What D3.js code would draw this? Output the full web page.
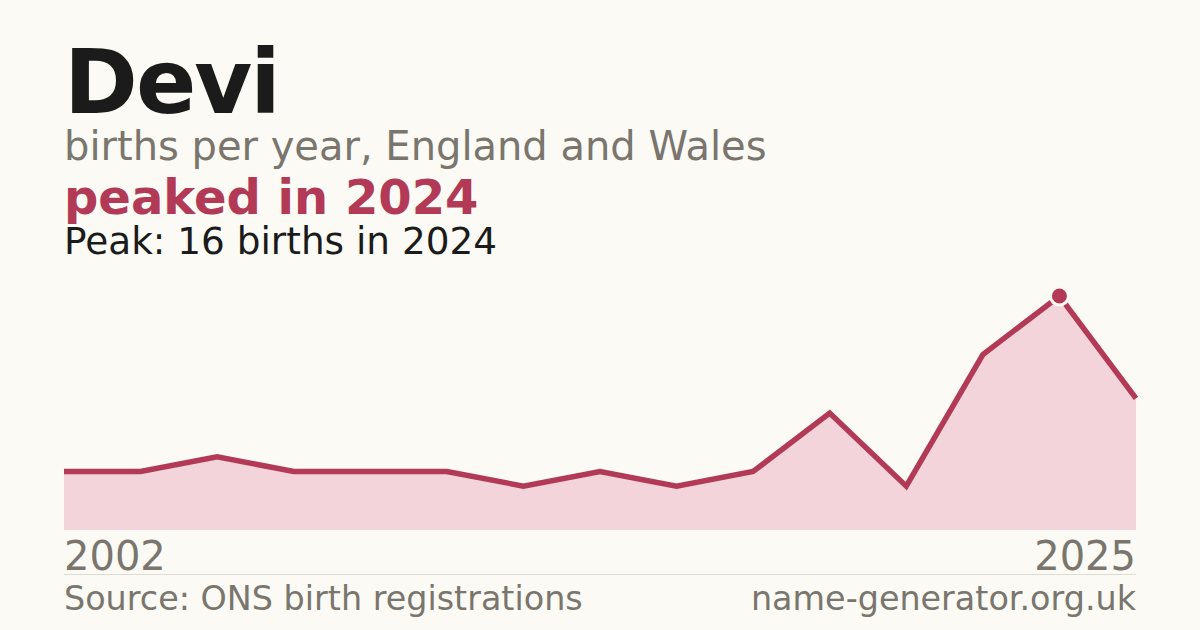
<!DOCTYPE html>
<html>
<head>
<meta charset="utf-8">
<script src="https://cdn.jsdelivr.net/npm/d3@7"></script>
<style>
  html, body { margin: 0; padding: 0; background: #fbfaf5; }
  svg { display: block; font-family: "DejaVu Sans", sans-serif; }
</style>
</head>
<body>
<div id="chart"></div>
<script>
// births per year for "Devi" (years with too few births are not published)
const years = ["2002", "2003", "2005", "2006", "2008", "2010", "2011", "2013",
               "2014", "2016", "2018", "2020", "2022", "2024", "2025"];
const births = [4, 4, 5, 4, 4, 4, 3, 4, 3, 4, 8, 3, 12, 16, 9];

const W = 1200, H = 630;
const left = 64, right = 1136;

const svg = d3.select("#chart")
  .append("svg")
  .attr("width", W)
  .attr("height", H);

svg.append("rect").attr("width", W).attr("height", H).attr("fill", "#fbfaf5");

// header texts
svg.append("text")
  .attr("x", left).attr("y", 113)
  .attr("font-size", 89).attr("font-weight", "bold")
  .attr("letter-spacing", -2)
  .attr("fill", "#1b1b1b")
  .text("Devi");

svg.append("text")
  .attr("x", left).attr("y", 160)
  .attr("font-size", 40)
  .attr("fill", "#7a756d")
  .text("births per year, England and Wales");

const peakIdx = births.indexOf(d3.max(births));

svg.append("text")
  .attr("x", left).attr("y", 214)
  .attr("font-size", 48).attr("font-weight", "bold")
  .attr("fill", "#b23a56")
  .text(`peaked in ${years[peakIdx]}`);

svg.append("text")
  .attr("x", left).attr("y", 254)
  .attr("font-size", 37.4)
  .attr("fill", "#1b1b1b")
  .text(`Peak: ${births[peakIdx]} births in ${years[peakIdx]}`);

// scales
const x = d3.scalePoint().domain(years).range([left, right]);
const y = d3.scaleLinear().domain([0, d3.max(births)]).range([530, 296]);

const data = years.map((yr, i) => ({ year: yr, v: births[i] }));

const area = d3.area()
  .x(d => x(d.year))
  .y0(y(0))
  .y1(d => y(d.v));

const line = d3.line()
  .x(d => x(d.year))
  .y(d => y(d.v));

svg.append("path")
  .datum(data)
  .attr("d", area)
  .attr("fill", "#f2d4da");

svg.append("path")
  .datum(data)
  .attr("d", line)
  .attr("fill", "none")
  .attr("stroke", "#b23a56")
  .attr("stroke-width", 5.5)
  .attr("stroke-linejoin", "miter");

svg.append("circle")
  .attr("cx", x(years[peakIdx]))
  .attr("cy", y(births[peakIdx]))
  .attr("r", 9)
  .attr("fill", "#b23a56")
  .attr("stroke", "#fbfaf5")
  .attr("stroke-width", 3);

// first / last year labels
svg.append("text")
  .attr("x", left).attr("y", 570)
  .attr("font-size", 40)
  .attr("fill", "#7a756d")
  .text(years[0]);

svg.append("text")
  .attr("x", right).attr("y", 570)
  .attr("text-anchor", "end")
  .attr("font-size", 40)
  .attr("fill", "#7a756d")
  .text(years[years.length - 1]);

svg.append("line")
  .attr("x1", left).attr("x2", right)
  .attr("y1", 574.5).attr("y2", 574.5)
  .attr("stroke", "#dedad2")
  .attr("stroke-width", 1);

// footer
svg.append("text")
  .attr("x", left).attr("y", 610)
  .attr("font-size", 33.4)
  .attr("fill", "#7a756d")
  .text("Source: ONS birth registrations");

svg.append("text")
  .attr("x", right).attr("y", 610)
  .attr("text-anchor", "end")
  .attr("font-size", 33.4)
  .attr("fill", "#7a756d")
  .text("name-generator.org.uk");
</script>
</body>
</html>
